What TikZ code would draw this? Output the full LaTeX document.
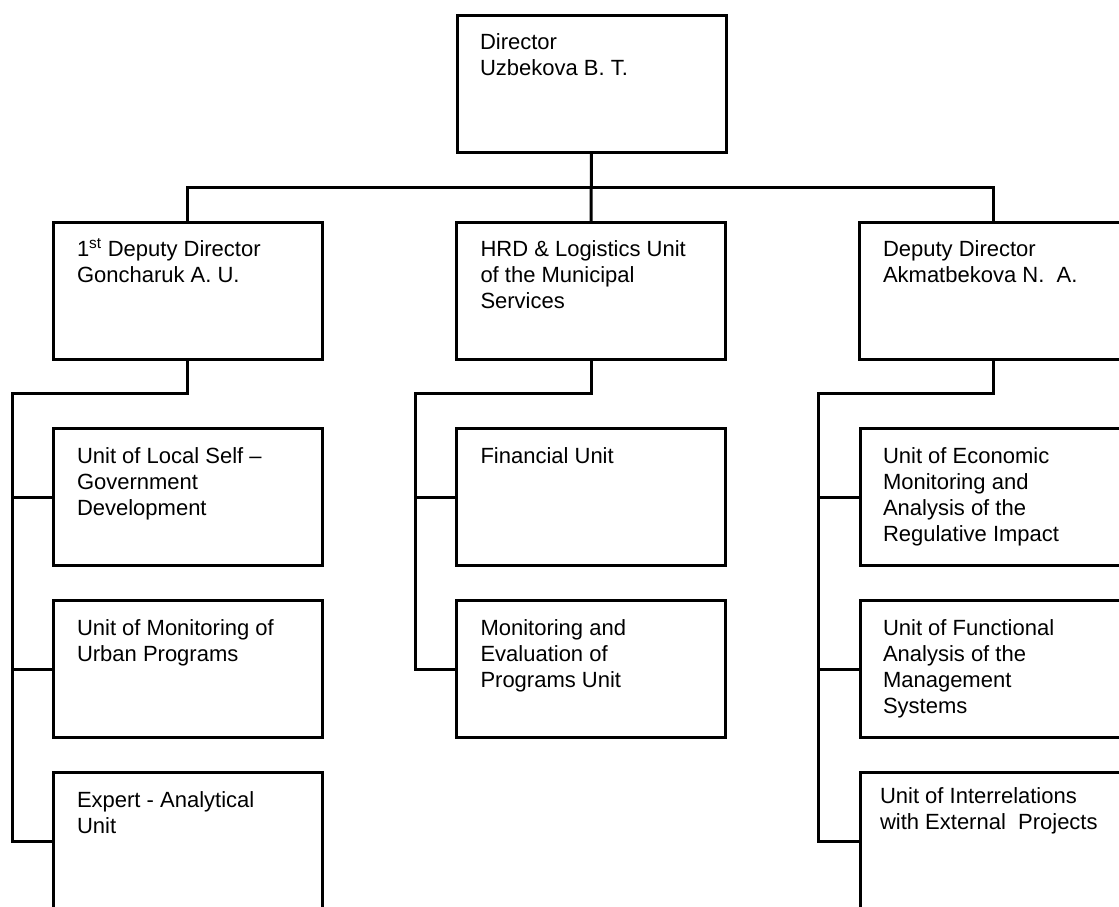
\documentclass[tikz,border=0pt]{standalone}
\usepackage{fontspec}
\setmainfont{Liberation Sans}
\usetikzlibrary{calc}
\tikzset{
  orgbox/.style={draw=black, line width=3pt, rectangle, minimum width=269pt, minimum height=137pt, inner sep=0pt, outer sep=0pt, fill=white},
  orgtext/.style={anchor=base west, inner sep=0pt, outer sep=0pt, font=\fontsize{22}{26}\selectfont},
  conn/.style={draw=black, line width=3pt, line join=miter}
}
\newcommand{\boxtxt}[1]{\parbox[t]{250pt}{\raggedright #1}}
\begin{document}
\begin{tikzpicture}[x=1pt,y=1pt]
\useasboundingbox (0,0) rectangle (1119,-906);
\clip (0,0) rectangle (1119,-906);
% boxes
\node[orgbox] (dir)  at (591.5,-83.5) {};
\node[orgbox] (dep1) at (187.5,-290.5) {};
\node[orgbox] (hrd)  at (591.0,-290.5) {};
\node[orgbox] (dep2) at (993.5,-290.5) {};
\node[orgbox] (l1) at (187.5,-497) {};
\node[orgbox] (l2) at (187.5,-669) {};
\node[orgbox] (l3) at (187.5,-841) {};
\node[orgbox] (m1) at (591.0,-497) {};
\node[orgbox] (m2) at (591.0,-669) {};
\node[orgbox] (r1) at (994.5,-497) {};
\node[orgbox] (r2) at (994.5,-669) {};
\node[orgbox] (r3) at (994.5,-841) {};
% texts
\node[orgtext] (tdir) at ($(dir.north west)+(23,-34.5)$) {\boxtxt{Director\\Uzbekova B. T.}};
\node[orgtext] (tdep1) at ($(dep1.north west)+(24,-34.5)$) {\boxtxt{1\textsuperscript{st} Deputy Director\\Goncharuk A. U.}};
\node[orgtext] (thrd) at ($(hrd.north west)+(24,-34.5)$) {\boxtxt{HRD \& Logistics Unit\\of the Municipal\\Services}};
\node[orgtext] (tdep2) at ($(dep2.north west)+(24,-34.5)$) {\boxtxt{Deputy Director\\Akmatbekova N.\ \ A.}};
\node[orgtext] (tl1) at ($(l1.north west)+(24,-35)$) {\boxtxt{Unit of Local Self --\\Government\\Development}};
\node[orgtext] (tl2) at ($(l2.north west)+(24,-35)$) {\boxtxt{Unit of Monitoring of\\Urban Programs}};
\node[orgtext] (tl3) at ($(l3.north west)+(24,-35)$) {\boxtxt{Expert - Analytical\\Unit}};
\node[orgtext] (tm1) at ($(m1.north west)+(24,-35)$) {\boxtxt{Financial Unit}};
\node[orgtext] (tm2) at ($(m2.north west)+(24,-35)$) {\boxtxt{Monitoring and\\Evaluation of\\Programs Unit}};
\node[orgtext] (tr1) at ($(r1.north west)+(23,-35)$) {\boxtxt{Unit of Economic\\Monitoring and\\Analysis of the\\Regulative Impact}};
\node[orgtext] (tr2) at ($(r2.north west)+(23,-35)$) {\boxtxt{Unit of Functional\\Analysis of the\\Management\\Systems}};
\node[orgtext] (tr3) at ($(r3.north west)+(20,-31)$) {\boxtxt{Unit of Interrelations\\with External\ \ Projects}};
% connector coordinates
\coordinate (bus) at (0,-187);
\coordinate (sl) at (12,-393.5);
\coordinate (sm) at (415,-393.5);
\coordinate (sr) at (818,-393.5);
% top level
\draw[conn] (dir.south) -- (hrd.north);
\draw[conn] (dep1.north) -- (dep1.north |- bus) -- (dep2.north |- bus) -- (dep2.north);
% left branch
\draw[conn] (dep1.south) |- (sl) -- (sl |- l3.west) -- (l3.west);
\draw[conn] (sl |- l1.west) -- (l1.west);
\draw[conn] (sl |- l2.west) -- (l2.west);
% middle branch
\draw[conn] (hrd.south) |- (sm) -- (sm |- m2.west) -- (m2.west);
\draw[conn] (sm |- m1.west) -- (m1.west);
% right branch
\draw[conn] (dep2.south) |- (sr) -- (sr |- r3.west) -- (r3.west);
\draw[conn] (sr |- r1.west) -- (r1.west);
\draw[conn] (sr |- r2.west) -- (r2.west);
\end{tikzpicture}
\end{document}
